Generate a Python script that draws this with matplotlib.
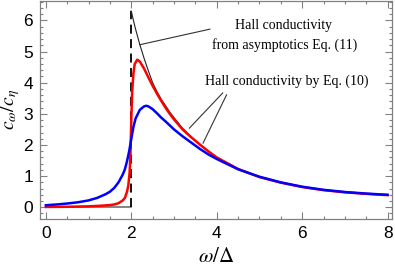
import matplotlib
matplotlib.use("Agg")
import matplotlib.pyplot as plt
from matplotlib.ticker import MultipleLocator

plt.rcParams["mathtext.fontset"] = "stix"

# values
x_red = [0.0, 0.5, 1.0, 1.3, 1.5, 1.6, 1.7, 1.8, 1.85, 1.9, 1.93, 1.96, 1.98, 2.0,
         2.02, 2.05, 2.08, 2.14, 2.2, 2.3, 2.4, 2.5, 2.6, 2.7, 2.8, 2.9, 3.0,
         3.2, 3.4, 3.6, 3.8, 4.0, 4.5, 5.0, 5.5, 6.0, 6.5, 7.0, 7.5, 8.0]
y_red = [0.01, 0.015, 0.03, 0.05, 0.07, 0.09, 0.13, 0.22, 0.3, 0.5, 0.7, 1.1, 1.7, 2.8,
         3.7, 4.3, 4.6, 4.74, 4.68, 4.45, 4.17, 3.9, 3.65, 3.42, 3.2, 3.0, 2.82,
         2.5, 2.25, 2.02, 1.8, 1.6, 1.23, 0.97, 0.79, 0.65, 0.55, 0.48, 0.43, 0.39]

x_blue = [0.0, 0.25, 0.5, 0.75, 1.0, 1.2, 1.4, 1.5, 1.6, 1.7, 1.8, 1.85, 1.9, 1.95,
          2.0, 2.05, 2.1, 2.2, 2.3, 2.35, 2.4, 2.5, 2.6, 2.7, 2.8, 3.0, 3.2, 3.4,
          3.6, 3.8, 4.0, 4.5, 5.0, 5.5, 6.0, 6.5, 7.0, 7.5, 8.0]
y_blue = [0.065, 0.09, 0.12, 0.16, 0.22, 0.3, 0.42, 0.5, 0.62, 0.8, 1.05, 1.22, 1.48, 1.8,
          2.2, 2.58, 2.85, 3.13, 3.24, 3.26, 3.24, 3.15, 3.02, 2.88, 2.76, 2.5, 2.28, 2.08,
          1.88, 1.7, 1.55, 1.22, 0.98, 0.8, 0.66, 0.56, 0.49, 0.44, 0.40]

x_asym = [2.0, 2.05, 2.1, 2.2, 2.3, 2.4, 2.5, 2.6, 2.7, 2.8, 2.9, 3.0, 3.2, 3.4,
          3.6, 3.8, 4.0, 4.5, 5.0, 5.5, 6.0, 6.5, 7.0, 7.5, 8.0]
y_asym = [6.3, 6.0, 5.72, 5.22, 4.78, 4.38, 4.0, 3.72, 3.47, 3.27, 3.06, 2.88, 2.54, 2.27,
          2.03, 1.81, 1.61, 1.23, 0.97, 0.79, 0.65, 0.55, 0.48, 0.43, 0.39]

gap = 2.0  # omega = 2 Delta
peak_line_top = 6.3

fig = plt.figure(figsize=(3.95, 2.70), dpi=100)
ax = fig.add_axes([0.101, 0.189, 0.891, 0.808])

ax.plot([0, gap], [0, 0], color="#707070", lw=1.2, zorder=1)
ax.plot([gap, gap], [0, peak_line_top], color="black", lw=1.3,
        dashes=(5, 3), zorder=2)
ax.plot(x_asym, y_asym, color="#222222", lw=0.8, zorder=3)
ax.plot(x_red, y_red, color="#ff0000", lw=1.8, zorder=4)
ax.plot(x_blue, y_blue, color="#0000ff", lw=1.8, zorder=5)

# leader lines
ax.plot([2.20, 3.84], [5.22, 5.72], color="#333333", lw=0.8)
ax.plot([4.14, 3.36], [3.67, 2.54], color="#333333", lw=0.8)
ax.plot([4.23, 3.68], [3.61, 2.06], color="#333333", lw=0.8)

tfont = dict(family="Liberation Serif", fontsize=10, ha="center", va="center")
ax.text(5.57, 5.83, "Hall conductivity", **tfont)
ax.text(5.60, 5.22, "from asymptotics Eq. (11)", **tfont)
ax.text(5.64, 4.06, "Hall conductivity by Eq. (10)", **tfont)

ax.set_xlim(-0.14, 8.1)
ax.set_ylim(-0.376, 6.63)
ax.xaxis.set_major_locator(MultipleLocator(2))
ax.xaxis.set_minor_locator(MultipleLocator(0.5))
ax.yaxis.set_major_locator(MultipleLocator(1))
ax.yaxis.set_minor_locator(MultipleLocator(0.2))
ax.tick_params(which="both", direction="in", top=True, right=True,
               color="#808080", width=0.8)
ax.tick_params(which="major", length=5, labelsize=12.5, pad=5)
ax.tick_params(which="minor", length=2.5)
for lab in ax.get_xticklabels() + ax.get_yticklabels():
    lab.set_family("Liberation Sans")
for s in ax.spines.values():
    s.set_color("#808080")
    s.set_linewidth(0.9)

ax.set_xlabel(r"$\omega/\Delta$", fontsize=15, labelpad=4)
ax.set_ylabel(r"$c_\omega/c_\eta$", fontsize=14, labelpad=1)

fig.savefig("out.png", dpi=100)
